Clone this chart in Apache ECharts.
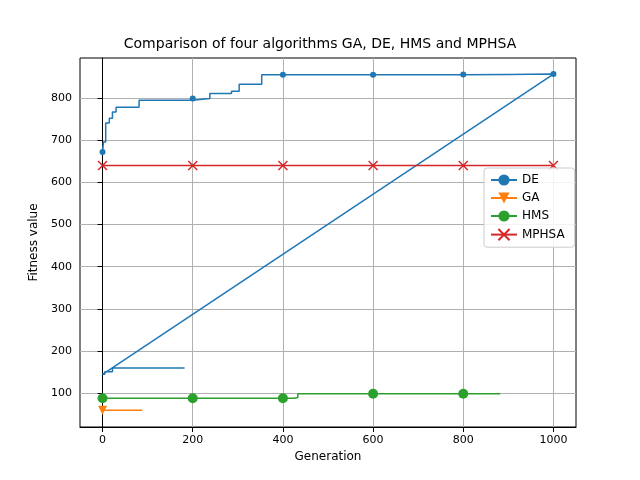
<!DOCTYPE html>
<html><head><meta charset="utf-8">
<script src="https://cdn.jsdelivr.net/npm/echarts@6/dist/echarts.min.js"></script>
<style>body{margin:0}#c{width:640px;height:480px}</style></head>
<body><div id="c"></div>
<script>
// DE: first run steps up, then the trace jumps back to start of a second run
var deX = [0, 0, 2, 7, 15, 22, 30, 81, 200, 238, 286, 303, 353, 400, 600, 800, 900, 1000, 0, 5, 22, 182]
var deY = [672, 673, 696, 741, 752, 767, 778, 795, 799, 811, 816, 833, 855, 855, 855, 856, 857, 857, 145, 151, 160, 160]
var deMarks = [0, 200, 400, 600, 800, 1000]
var deJump = 18 // index where the trace jumps back (straight line, no step)
var gaX = [0, 88]
var gaY = [60, 60]
var hmsX = [0, 200, 400, 425, 433, 600, 800, 882]
var hmsY = [88, 88, 88, 90, 99, 99, 99, 99]
var hmsMarks = [0, 200, 400, 600, 800]
var mpX = [0, 200, 400, 600, 800, 1000]
var mpY = [640, 640, 640, 640, 640, 640]
var xTicks = [0, 200, 400, 600, 800, 1000]
var yTicks = [100, 200, 300, 400, 500, 600, 700, 800]

// build step corners by hand, marker only on listed x (within first `markUntil` points)
function stepPts(xs, ys, marks, markUntil, noStepAt) {
  var out = []
  for (var i = 0; i < xs.length; i++) {
    if (i > 0 && i !== noStepAt && ys[i] !== ys[i - 1]) {
      out.push({ value: [xs[i], ys[i - 1]], symbolSize: 0 })
    }
    var on = marks.indexOf(xs[i]) >= 0 && (markUntil == null || i < markUntil)
    if (i === 1 && xs[0] === xs[1]) on = false
    out.push({ value: [xs[i], ys[i]], symbolSize: on ? undefined : 0 })
  }
  return out
}
var font = 'DejaVu Sans'
var chart = echarts.init(document.getElementById('c'))
var gridLines = { show: true, lineStyle: { color: '#b0b0b0', width: 1 } }
chart.setOption({
  animation: false,
  textStyle: { fontFamily: font },
  color: ['#1f77b4', '#ff7f0e', '#2ca02c', '#d62728'],
  title: { text: 'Comparison of four algorithms GA, DE, HMS and MPHSA', left: 'center', top: 32,
    textStyle: { fontSize: 14, fontWeight: 'normal', color: '#000', fontFamily: font } },
  legend: {
    orient: 'vertical', left: 484, top: 168, itemWidth: 26, itemGap: 6,
    backgroundColor: 'rgba(255,255,255,0.85)', borderColor: '#ccc', borderWidth: 1, borderRadius: 3,
    padding: [6, 10, 6, 6], textStyle: { fontSize: 12, color: '#000' },
    data: ['DE', 'GA', 'HMS', 'MPHSA']
  },
  grid: { left: 80, right: 64, top: 58, bottom: 53, show: true, borderColor: '#000', borderWidth: 1 },
  xAxis: {
    type: 'value', min: -50, max: 1050, name: 'Generation', nameLocation: 'middle', nameGap: 22,
    nameTextStyle: { fontSize: 12, color: '#000' },
    axisLine: { onZero: false, lineStyle: { color: '#000' } },
    axisTick: { customValues: xTicks, lineStyle: { color: '#000' } },
    axisLabel: { customValues: xTicks, color: '#000', fontSize: 11, formatter: function (v) { return String(v) } },
    splitLine: gridLines
  },
  yAxis: {
    type: 'value', min: 20, max: 895, name: 'Fitness value', nameLocation: 'middle', nameGap: 40,
    nameTextStyle: { fontSize: 12, color: '#000' },
    axisLine: { show: true, lineStyle: { color: '#000' } },
    axisTick: { show: true, customValues: yTicks, lineStyle: { color: '#000' } },
    axisLabel: { customValues: yTicks, color: '#000', fontSize: 11 },
    splitLine: gridLines
  },
  series: [
    { name: 'DE', type: 'line', symbol: 'circle', symbolSize: 6, lineStyle: { width: 1.5 },
      data: stepPts(deX, deY, deMarks, deJump, deJump) },
    { name: 'GA', type: 'line', symbol: 'triangle', symbolRotate: 180, symbolSize: 9, lineStyle: { width: 1.5 },
      data: stepPts(gaX, gaY, [0]) },
    { name: 'HMS', type: 'line', symbol: 'circle', symbolSize: 10, lineStyle: { width: 1.5 },
      data: stepPts(hmsX, hmsY, hmsMarks) },
    { name: 'MPHSA', type: 'line', symbol: 'path://M0,0L10,10M10,0L0,10', symbolSize: 9,
      itemStyle: { borderColor: '#d62728', borderWidth: 1.5, color: '#d62728' },
      lineStyle: { width: 1.5, color: '#d62728' },
      data: stepPts(mpX, mpY, mpX) }
  ]
})
</script></body></html>
